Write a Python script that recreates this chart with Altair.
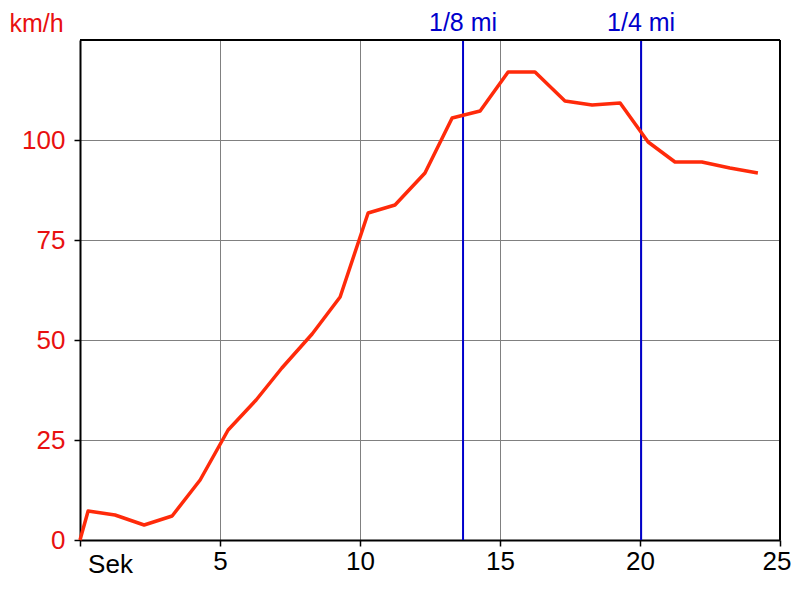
import altair as alt
import pandas as pd

# Data
seconds = [0, 0.29, 1.25, 2.29, 3.29, 4.29, 5.29, 6.29, 7.21, 8.29, 9.29, 10.29,
           11.25, 12.32, 13.29, 14.29, 15.29, 16.25, 17.32, 18.29, 19.29, 20.29,
           21.25, 22.21, 23.21, 24.21]
speed = [0, 7.25, 6.25, 3.75, 6.0, 15.0, 27.5, 35.0, 43.0, 51.5, 60.75, 81.75,
         83.75, 91.75, 105.5, 107.25, 117.0, 117.0, 109.75, 108.75, 109.25, 99.5,
         94.5, 94.5, 93.0, 91.75]
marker_labels = ["1/8 mi", "1/4 mi"]
marker_times = [13.68, 20.04]
x_ticks = [0, 5, 10, 15, 20, 25]
y_ticks = [0, 25, 50, 75, 100]

df = pd.DataFrame({"t": seconds, "v": speed})
mk = pd.DataFrame({"t": marker_times, "label": marker_labels})

FONT = "Liberation Sans"
FS = 26
FS_TOP = 25
RED = "#e81010"
W, H = 700, 500

x_scale = alt.Scale(domain=[0, 25], nice=False)
y_scale = alt.Scale(domain=[0, 125], nice=False)

x_axis = alt.Axis(values=x_ticks, labelExpr="datum.value == 0 ? '' : datum.label",
                  labelAlign={"condition": {"test": "datum.value == 25", "value": "right"},
                              "value": "center"},
                  labelOffset={"condition": {"test": "datum.value == 25", "value": 11},
                               "value": 0},
                  title="Sek", titleX=30, titleY=11, titleAlign="center",
                  titleBaseline="top", titleFont=FONT, titleFontSize=FS,
                  titleFontWeight="normal", titleColor="black",
                  labelFont=FONT, labelFontSize=FS, labelColor="black",
                  labelPadding=2, tickSize=6, tickColor="black", tickWidth=1.5,
                  domainColor="black", domainWidth=2, gridColor="#808080",
                  gridWidth=1, labelFlush=False, labelOverlap=False)

y_axis = alt.Axis(values=y_ticks, title="km/h", titleAngle=0, titleX=-44,
                  titleY=-9, titleAlign="center", titleBaseline="alphabetic",
                  titleFont=FONT, titleFontSize=FS_TOP, titleFontWeight="normal",
                  titleColor=RED, labelFont=FONT, labelFontSize=FS,
                  labelColor=RED, labelPadding=9, tickSize=6,
                  tickColor="black", tickWidth=1.5, domainColor="black",
                  domainWidth=2, gridColor="#808080", gridWidth=1)

line = alt.Chart(df).mark_line(color="#ff2a0a", strokeWidth=3.5, strokeJoin="round").encode(
    x=alt.X("t:Q", scale=x_scale, axis=x_axis),
    y=alt.Y("v:Q", scale=y_scale, axis=y_axis),
)

rules = alt.Chart(mk).mark_rule(color="#0000cc", strokeWidth=2).encode(
    x=alt.X("t:Q", scale=x_scale),
)

texts = alt.Chart(mk).mark_text(color="#0000cc", font=FONT, fontSize=FS_TOP,
                                baseline="alphabetic", align="center").encode(
    x=alt.X("t:Q", scale=x_scale),
    y=alt.value(-9),
    text="label:N",
)

frame_top = alt.Chart(df).mark_rule(color="black", strokeWidth=2).encode(
    x=alt.value(0), x2=alt.value(W), y=alt.value(0))
frame_right = alt.Chart(df).mark_rule(color="black", strokeWidth=2).encode(
    x=alt.value(W), y=alt.value(0), y2=alt.value(H))

chart = alt.layer(rules, line, texts, frame_top, frame_right).properties(
    width=W, height=H,
    autosize=alt.AutoSizeParams(type="none"),
    padding={"left": 72, "top": 32, "right": 12, "bottom": 52},
).configure_view(stroke="black", strokeWidth=2).configure(background="white")

chart.save("out.html", embed_options={"renderer": "svg", "actions": False})
